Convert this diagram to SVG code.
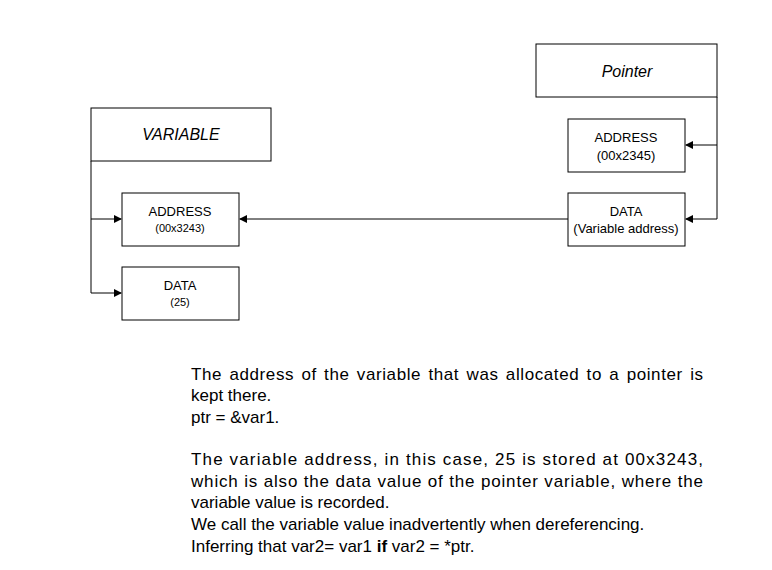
<svg xmlns="http://www.w3.org/2000/svg" width="772" height="570" viewBox="0 0 772 570">
<style>
.b{fill:#fff;stroke:#000;stroke-width:1}
.t{font-family:"Liberation Sans",Arial,sans-serif;font-size:13px;text-anchor:middle}
.s{font-size:11px}
.h{font-family:"Liberation Sans",Arial,sans-serif;font-size:16px;font-style:italic;text-anchor:middle}
.p{font-family:"Liberation Sans",Arial,sans-serif;font-size:17px}
.c{fill:none;stroke:#000;stroke-width:1}
</style>
<defs><marker id="a" markerWidth="8" markerHeight="8" refX="7" refY="4" orient="auto" markerUnits="userSpaceOnUse"><path d="M0,0L8,4L0,8z" fill="#000"/></marker></defs>
<rect width="772" height="570" fill="#fff"/>
<g id="connectors">
<path class="c" d="M91,161V293H121" marker-end="url(#a)"/>
<path class="c" d="M91,219H121" marker-end="url(#a)"/>
<path class="c" d="M717,97V219H686" marker-end="url(#a)"/>
<path class="c" d="M717,145H686" marker-end="url(#a)"/>
<path class="c" d="M568,219H240" marker-end="url(#a)"/>
</g>
<g id="variable"><rect class="b" x="91" y="108" width="180" height="53"/><text class="h" x="181" y="140">VARIABLE</text></g>
<g id="pointer"><rect class="b" x="536" y="44" width="181" height="53"/><text class="h" x="627" y="77">Pointer</text></g>
<g id="paddr"><rect class="b" x="568" y="119" width="117" height="53"/><text class="t" x="626" y="142">ADDRESS</text><text class="t" x="626" y="160" font-size="12">(00x2345)</text></g>
<g id="pdata"><rect class="b" x="568" y="193" width="117" height="53"/><text class="t" x="626" y="216">DATA</text><text class="t" x="626" y="233" font-size="12">(Variable address)</text></g>
<g id="vaddr"><rect class="b" x="122" y="193" width="117" height="53"/><text class="t" x="180" y="216">ADDRESS</text><text class="t s" x="180" y="232">(00x3243)</text></g>
<g id="vdata"><rect class="b" x="122" y="267" width="117" height="53"/><text class="t" x="180" y="290">DATA</text><text class="t s" x="180" y="306">(25)</text></g>
<g id="text" class="p">
<text x="191" y="380" textLength="512" lengthAdjust="spacing" word-spacing="2">The address of the variable that was allocated to a pointer is</text>
<text x="191" y="401">kept there.</text>
<text x="191" y="423">ptr = &amp;var1.</text>
<text x="191" y="465" textLength="512" lengthAdjust="spacing">The variable address, in this case, 25 is stored at 00x3243,</text>
<text x="191" y="487" textLength="512" lengthAdjust="spacing">which is also the data value of the pointer variable, where the</text>
<text x="191" y="508">variable value is recorded.</text>
<text x="191" y="530">We call the variable value inadvertently when dereferencing.</text>
<text x="191" y="552">Inferring that var2= var1 <tspan font-weight="bold">if</tspan> var2 = *ptr.</text>
</g>
</svg>
